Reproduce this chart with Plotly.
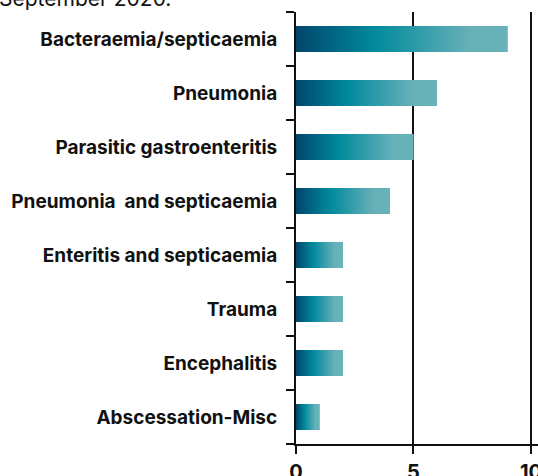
import plotly.graph_objects as go

categories = ["Bacteraemia/septicaemia", "Pneumonia", "Parasitic gastroenteritis",
              "Pneumonia  and septicaemia", "Enteritis and septicaemia", "Trauma",
              "Encephalitis", "Abscessation-Misc"]
values = [9, 6, 5, 4, 2, 2, 2, 1]
x_ticks = [0, 5, 10]
title_text = "September 2020."

positions = list(range(len(categories)))
half = 0.24
scale = [[0.0, "#00466b"], [0.37, "#008a9c"], [0.82, "#66b0b8"], [1.0, "#68b2ba"]]

fig = go.Figure()
fig.add_trace(go.Bar(x=values, y=positions, orientation="h", width=2 * half,
                     marker=dict(color="#3f9faf", line=dict(width=0)),
                     hoverinfo="skip", showlegend=False))
for p, v in zip(positions, values):
    fig.add_trace(go.Scatter(
        x=[0, v, v, 0, 0], y=[p - half, p - half, p + half, p + half, p - half],
        mode="lines", line=dict(width=0), fill="toself",
        fillgradient=dict(type="horizontal", colorscale=scale, start=0, stop=v),
        hoverinfo="skip", showlegend=False))

fig.update_layout(
    width=538, height=476,
    margin=dict(l=296, r=0, t=12, b=32, autoexpand=False),
    plot_bgcolor="white", paper_bgcolor="white",
    font=dict(family="Inter", color="#111111"),
    showlegend=False,
)
fig.update_xaxes(range=[0, 10.3], tickvals=x_ticks, ticktext=[str(t) for t in x_ticks],
                 automargin=False, ticklabeloverflow="allow",
                 showgrid=True, gridcolor="#111111", gridwidth=1.5, zeroline=False,
                 showline=True, linecolor="#111111", linewidth=2,
                 ticks="outside", ticklen=8, tickwidth=2, tickcolor="#111111",
                 ticklabelstandoff=1,
                 tickfont=dict(size=20, family="Inter", weight="bold"))
fig.update_yaxes(range=[7.5, -0.5], tickvals=positions, ticktext=categories,
                 automargin=False, ticklabeloverflow="allow",
                 showgrid=False, zeroline=False,
                 showline=True, linecolor="#111111", linewidth=2,
                 ticks="outside", ticklen=13, tickcolor="rgba(0,0,0,0)",
                 tickfont=dict(size=19, family="Inter", weight="bold"),
                 minor=dict(tickvals=[p - 0.5 for p in positions] + [len(positions) - 0.5],
                            ticks="outside", ticklen=8, tickwidth=2, tickcolor="#111111",
                            showgrid=False))
fig.add_annotation(text=title_text, xref="paper", yref="paper", x=-296 / 242, y=1.0,
                   xanchor="left", yanchor="bottom", showarrow=False, xshift=-3, yshift=-1,
                   font=dict(size=21, family="Inter", color="#111111"))
fig.write_html("out.html", config={"displayModeBar": False},
               post_script="document.body.style.margin='0';document.body.style.overflow='hidden';")
